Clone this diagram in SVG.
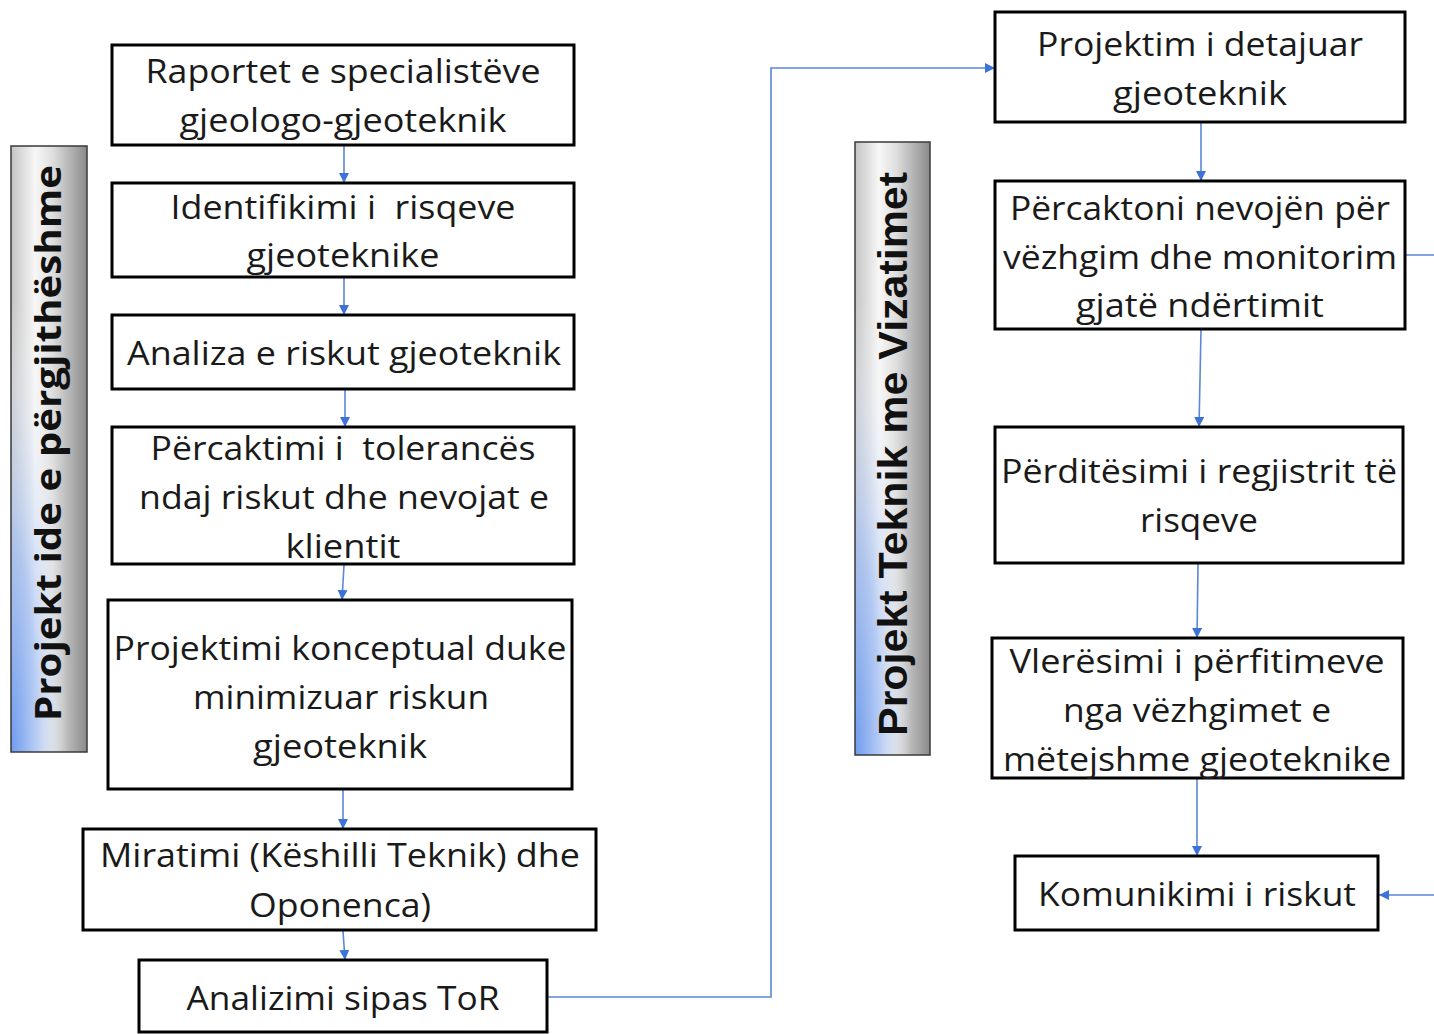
<svg xmlns="http://www.w3.org/2000/svg" width="1434" height="1034" viewBox="0 0 1434 1034">
  <style>
    .box { fill: #ffffff; stroke: #000000; stroke-width: 3; }
    .lbl { font-family: "Open Sans", "Noto Sans", sans-serif; font-size: 33px; fill: #1a1a1a; text-anchor: middle; }
    .band { stroke: #3a3a3a; stroke-width: 1.5; }
    .bandtxt { font-family: "Open Sans", "Noto Sans", sans-serif; font-weight: bold; font-size: 35px; fill: #111111; text-anchor: middle; }
    .bandtxt2 { font-family: "Liberation Sans", Arial, sans-serif; font-weight: bold; font-size: 41px; fill: #111111; text-anchor: middle; }
    .conn { fill: none; stroke: #5a88d6; stroke-width: 1.6; }
  </style>
  <defs>
    <marker id="arrow" markerUnits="userSpaceOnUse" markerWidth="12" markerHeight="12" refX="10" refY="5" orient="auto">
      <path d="M0,0 L10,5 L0,10 Z" fill="#3b73d8"/>
    </marker>
    <linearGradient id="bandBase" x1="0" y1="0" x2="1" y2="0">
      <stop offset="0" stop-color="#c4c4c4"/>
      <stop offset="0.32" stop-color="#f7f7f7"/>
      <stop offset="0.55" stop-color="#dedede"/>
      <stop offset="1" stop-color="#8a8a8a"/>
    </linearGradient>
    <radialGradient id="bandBlue" cx="0" cy="1" r="0.75" fx="0" fy="1">
      <stop offset="0" stop-color="#6f9cf0" stop-opacity="1"/>
      <stop offset="0.45" stop-color="#a2bff5" stop-opacity="0.75"/>
      <stop offset="1" stop-color="#ffffff" stop-opacity="0"/>
    </radialGradient>
  </defs>

  <!-- phase banners -->
  <g id="band-ide">
    <rect x="11" y="146" width="76" height="606" fill="url(#bandBase)"/>
    <rect x="11" y="146" width="76" height="606" fill="url(#bandBlue)"/>
    <rect class="band" x="11" y="146" width="76" height="606" fill="none"/>
    <text class="bandtxt" transform="translate(61,443) rotate(-90)" textLength="556" lengthAdjust="spacingAndGlyphs">Projekt ide e përgjithëshme</text>
  </g>
  <g id="band-teknik">
    <rect x="855" y="142" width="75" height="613" fill="url(#bandBase)"/>
    <rect x="855" y="142" width="75" height="613" fill="url(#bandBlue)"/>
    <rect class="band" x="855" y="142" width="75" height="613" fill="none"/>
    <text class="bandtxt2" transform="translate(907,454) rotate(-90)" textLength="564" lengthAdjust="spacingAndGlyphs">Projekt Teknik me Vizatimet</text>
  </g>

  <!-- connectors -->
  <g id="connectors">
    <path class="conn" d="M344,146 V183" marker-end="url(#arrow)"/>
    <path class="conn" d="M344,278 V315" marker-end="url(#arrow)"/>
    <path class="conn" d="M345,390 V427" marker-end="url(#arrow)"/>
    <path class="conn" d="M344,565 L342,600" marker-end="url(#arrow)"/>
    <path class="conn" d="M343,790 V829" marker-end="url(#arrow)"/>
    <path class="conn" d="M343,931 L345,960" marker-end="url(#arrow)"/>
    <path class="conn" d="M548,997 H771 V68 H995" marker-end="url(#arrow)"/>
    <path class="conn" d="M1201,123 V181" marker-end="url(#arrow)"/>
    <path class="conn" d="M1201,330 L1199,427" marker-end="url(#arrow)"/>
    <path class="conn" d="M1198,564 L1197,638" marker-end="url(#arrow)"/>
    <path class="conn" d="M1197,779 V856" marker-end="url(#arrow)"/>
    <path class="conn" d="M1406,255 H1436 V895 H1379" marker-end="url(#arrow)"/>
  </g>

  <!-- left column -->
  <g id="raportet">
    <rect class="box" x="112" y="45" width="462" height="100"/>
    <text class="lbl" x="343" y="83" textLength="395" lengthAdjust="spacingAndGlyphs">Raportet e specialistëve</text>
    <text class="lbl" x="343" y="132" textLength="327" lengthAdjust="spacingAndGlyphs">gjeologo-gjeoteknik</text>
  </g>
  <g id="identifikimi">
    <rect class="box" x="112" y="183" width="462" height="94"/>
    <text class="lbl" x="343" y="219" textLength="345" lengthAdjust="spacingAndGlyphs" xml:space="preserve">Identifikimi i  risqeve</text>
    <text class="lbl" x="343" y="267" textLength="193" lengthAdjust="spacingAndGlyphs">gjeoteknike</text>
  </g>
  <g id="analiza">
    <rect class="box" x="112" y="315" width="462" height="74"/>
    <text class="lbl" x="344" y="365" textLength="434" lengthAdjust="spacingAndGlyphs">Analiza e riskut gjeoteknik</text>
  </g>
  <g id="percaktimi">
    <rect class="box" x="112" y="427" width="462" height="137"/>
    <text class="lbl" x="343" y="460" textLength="385" lengthAdjust="spacingAndGlyphs" xml:space="preserve">Përcaktimi i  tolerancës</text>
    <text class="lbl" x="344" y="509" textLength="410" lengthAdjust="spacingAndGlyphs">ndaj riskut dhe nevojat e</text>
    <text class="lbl" x="343" y="558" textLength="115" lengthAdjust="spacingAndGlyphs">klientit</text>
  </g>
  <g id="konceptual">
    <rect class="box" x="108" y="600" width="464" height="189"/>
    <text class="lbl" x="340" y="660" textLength="453" lengthAdjust="spacingAndGlyphs">Projektimi konceptual duke</text>
    <text class="lbl" x="341" y="709" textLength="296" lengthAdjust="spacingAndGlyphs">minimizuar riskun</text>
    <text class="lbl" x="340" y="758" textLength="174" lengthAdjust="spacingAndGlyphs">gjeoteknik</text>
  </g>
  <g id="miratimi">
    <rect class="box" x="83" y="829" width="513" height="101"/>
    <text class="lbl" x="340" y="867" textLength="480" lengthAdjust="spacingAndGlyphs">Miratimi (Këshilli Teknik) dhe</text>
    <text class="lbl" x="340" y="917" textLength="182" lengthAdjust="spacingAndGlyphs">Oponenca)</text>
  </g>
  <g id="analizimi">
    <rect class="box" x="139" y="960" width="408" height="72"/>
    <text class="lbl" x="343" y="1010" textLength="313" lengthAdjust="spacingAndGlyphs">Analizimi sipas ToR</text>
  </g>

  <!-- right column -->
  <g id="detajuar">
    <rect class="box" x="995" y="12" width="410" height="110"/>
    <text class="lbl" x="1200" y="56" textLength="326" lengthAdjust="spacingAndGlyphs">Projektim i detajuar</text>
    <text class="lbl" x="1200" y="105" textLength="174" lengthAdjust="spacingAndGlyphs">gjeoteknik</text>
  </g>
  <g id="monitorim">
    <rect class="box" x="995" y="181" width="410" height="148"/>
    <text class="lbl" x="1200" y="220" textLength="380" lengthAdjust="spacingAndGlyphs">Përcaktoni nevojën për</text>
    <text class="lbl" x="1200" y="269" textLength="394" lengthAdjust="spacingAndGlyphs">vëzhgim dhe monitorim</text>
    <text class="lbl" x="1200" y="317" textLength="248" lengthAdjust="spacingAndGlyphs">gjatë ndërtimit</text>
  </g>
  <g id="regjistri">
    <rect class="box" x="995" y="427" width="408" height="136"/>
    <text class="lbl" x="1199" y="483" textLength="396" lengthAdjust="spacingAndGlyphs">Përditësimi i regjistrit të</text>
    <text class="lbl" x="1199" y="532" textLength="118" lengthAdjust="spacingAndGlyphs">risqeve</text>
  </g>
  <g id="vleresimi">
    <rect class="box" x="992" y="638" width="411" height="140"/>
    <text class="lbl" x="1197" y="673" textLength="375" lengthAdjust="spacingAndGlyphs">Vlerësimi i përfitimeve</text>
    <text class="lbl" x="1197" y="722" textLength="268" lengthAdjust="spacingAndGlyphs">nga vëzhgimet e</text>
    <text class="lbl" x="1197" y="771" textLength="388" lengthAdjust="spacingAndGlyphs">mëtejshme gjeoteknike</text>
  </g>
  <g id="komunikimi">
    <rect class="box" x="1015" y="856" width="363" height="74"/>
    <text class="lbl" x="1197" y="906" textLength="318" lengthAdjust="spacingAndGlyphs">Komunikimi i riskut</text>
  </g>
</svg>
